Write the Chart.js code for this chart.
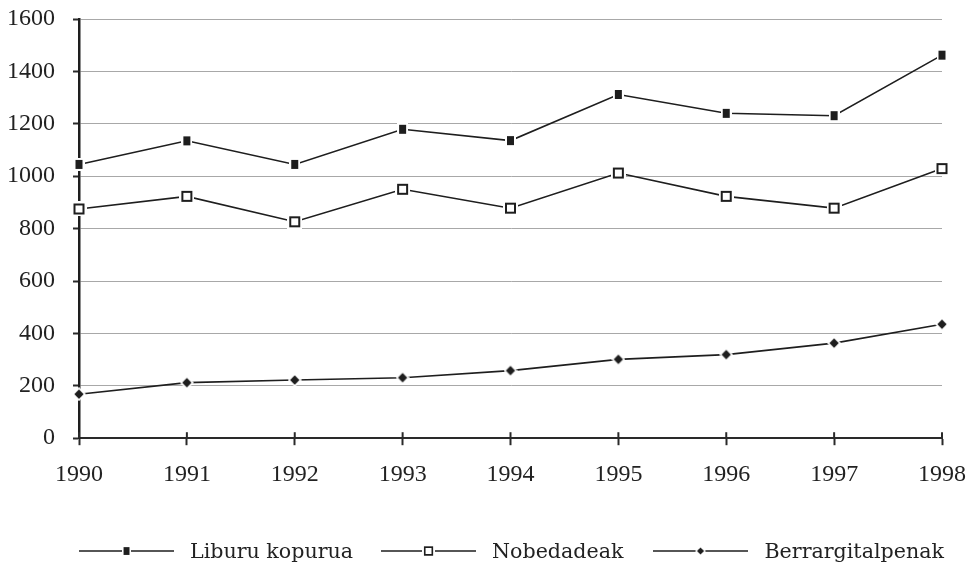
<!DOCTYPE html>
<html>
<head>
<meta charset="utf-8">
<script src="https://cdn.jsdelivr.net/npm/chart.js@4/dist/chart.umd.min.js"></script>
<style>
  html, body { margin: 0; padding: 0; background: #fff; }
  #wrap { position: relative; width: 970px; height: 562px; overflow: hidden; }
  #c { position: absolute; left: 0; top: 0; }
  #legend { position: absolute; left: 79px; top: 539px; display: flex; align-items: center;
            font-family: "DejaVu Serif", serif; font-size: 20.6px; color: #222; white-space: nowrap; }
  .item { display: flex; align-items: center; }
  .item canvas { margin-right: 16px; }
</style>
</head>
<body>
<div id="wrap">
  <canvas id="c" width="970" height="562"></canvas>
  <div id="legend"></div>
</div>
<script>
const years = ['1990','1991','1992','1993','1994','1995','1996','1997','1998'];
const seriesNames = ['Liburu kopurua', 'Nobedadeak', 'Berrargitalpenak'];
const liburuKopurua = [1045, 1135, 1045, 1179, 1136, 1312, 1240, 1231, 1462];
const nobedadeak = [875, 923, 826, 950, 878, 1012, 923, 878, 1029];
const berrargitalpenak = [168, 212, 222, 231, 258, 301, 319, 363, 435];
const yTicks = [0, 200, 400, 600, 800, 1000, 1200, 1400, 1600];

const INK = '#1e1e1e';

function makeMarker(kind) {
  const c = document.createElement('canvas');
  const g = c.getContext('2d');
  if (kind === 'rect') {
    c.width = 11; c.height = 13;
    g.fillStyle = '#fff'; g.fillRect(0, 0, 11, 13);
    g.fillStyle = INK; g.fillRect(2, 2, 7, 9);
  } else if (kind === 'hollow') {
    c.width = 15; c.height = 15;
    g.fillStyle = '#fff'; g.fillRect(0, 0, 15, 15);
    g.fillStyle = INK; g.fillRect(2, 2, 11, 11);
    g.fillStyle = '#fff'; g.fillRect(4, 4, 7, 7);
  } else {
    c.width = 14; c.height = 14;
    g.fillStyle = '#fff';
    g.beginPath(); g.moveTo(7, 0); g.lineTo(14, 7); g.lineTo(7, 14); g.lineTo(0, 7); g.closePath(); g.fill();
    g.fillStyle = INK;
    g.beginPath(); g.moveTo(7, 2.3); g.lineTo(11.7, 7); g.lineTo(7, 11.7); g.lineTo(2.3, 7); g.closePath(); g.fill();
  }
  return c;
}

const markers = [makeMarker('rect'), makeMarker('hollow'), makeMarker('diamond')];
const seriesData = [liburuKopurua, nobedadeak, berrargitalpenak];

const datasets = seriesNames.map((name, i) => ({
  label: name,
  data: seriesData[i],
  borderColor: INK,
  backgroundColor: INK,
  borderWidth: 1.6,
  pointStyle: markers[i],
  pointRadius: 7,
  pointHoverRadius: 7,
  tension: 0,
  fill: false
}));

const crossTicks = {
  id: 'crossTicks',
  afterDatasetsDraw(chart) {
    const x = chart.scales.x;
    const ctx = chart.ctx;
    ctx.save();
    ctx.strokeStyle = '#2a2a2a';
    ctx.lineWidth = 2;
    x.ticks.forEach((t, i) => {
      const px = x.getPixelForTick(i);
      ctx.beginPath();
      ctx.moveTo(px, x.top - 6);
      ctx.lineTo(px, x.top);
      ctx.stroke();
    });
    ctx.restore();
  }
};

new Chart(document.getElementById('c'), {
  type: 'line',
  data: { labels: years, datasets },
  plugins: [crossTicks],
  options: {
    responsive: false,
    animation: false,
    events: [],
    layout: { padding: { left: 6, right: 28, top: 19, bottom: 58 } },
    plugins: { legend: { display: false }, tooltip: { enabled: false } },
    scales: {
      x: {
        offset: false,
        afterFit(scale) { scale.paddingLeft = 0; scale.paddingRight = 0; },
        grid: { display: true, drawOnChartArea: false, drawTicks: true, tickLength: 7, tickColor: '#2a2a2a', tickWidth: 2 },
        border: { display: true, color: '#2a2a2a', width: 2 },
        ticks: { color: '#222', font: { family: 'Liberation Serif', size: 24 }, padding: 15, maxRotation: 0 }
      },
      y: {
        min: 0, max: 1600,
        afterBuildTicks(scale) { scale.ticks = yTicks.map(v => ({ value: v })); },
        afterFit(scale) { scale.width = 73; scale.paddingTop = 0; scale.paddingBottom = 0; },
        grid: { color: '#a8a8a8', lineWidth: 1, drawTicks: true, tickLength: 6, tickColor: '#2a2a2a', tickWidth: 2 },
        border: { display: true, color: '#1e1e1e', width: 2.5 },
        ticks: { color: '#222', font: { family: 'Liberation Serif', size: 24 }, padding: 18,
                 callback: v => String(v) }
      }
    }
  }
});

// HTML legend built from the datasets
const leg = document.getElementById('legend');
const itemGaps = [28, 30, 0];
datasets.forEach((ds, i) => {
  const item = document.createElement('div');
  item.className = 'item';
  item.style.marginRight = itemGaps[i] + 'px';
  const s = document.createElement('canvas');
  s.width = 95; s.height = 16;
  const g = s.getContext('2d');
  g.strokeStyle = INK; g.lineWidth = 1.6;
  g.beginPath(); g.moveTo(0, 8); g.lineTo(95, 8); g.stroke();
  const m = markers[i];
  const scale = i === 2 ? 0.75 : 0.85;
  const w = m.width * scale, h = m.height * scale;
  g.drawImage(m, 47.5 - w / 2, 8 - h / 2, w, h);
  item.appendChild(s);
  const t = document.createElement('span');
  t.textContent = ds.label;
  item.appendChild(t);
  leg.appendChild(item);
});
</script>
</body>
</html>
